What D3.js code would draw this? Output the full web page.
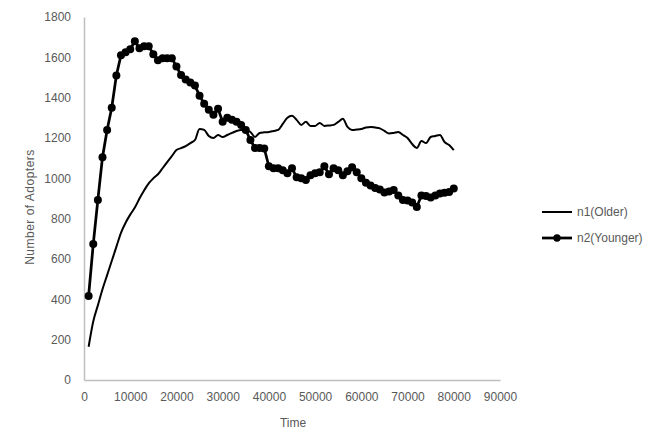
<!DOCTYPE html>
<html>
<head>
<meta charset="utf-8">
<script src="https://cdn.jsdelivr.net/npm/d3@7/dist/d3.min.js"></script>
<style>
  body { margin: 0; background: #fff; }
  text { font-family: "Liberation Sans", Arial, sans-serif; fill: #595959; }
</style>
</head>
<body>
<svg id="chart" width="655" height="438"></svg>
<script>
// time steps (x 1000)
const times = d3.range(1, 81).map(k => k * 1000);

// n1 (Older)
const n1 = [165, 290, 370, 450, 520, 590, 660, 730, 780, 820,
  855, 900, 940, 975, 1000, 1020, 1050, 1080, 1110, 1140,
  1150, 1160, 1175, 1190, 1245, 1240, 1210, 1200, 1215, 1205,
  1215, 1225, 1235, 1240, 1240, 1230, 1205, 1225, 1228, 1230,
  1235, 1240, 1270, 1300, 1310, 1290, 1265, 1280, 1260, 1260,
  1275, 1260, 1262, 1265, 1280, 1295, 1255, 1240, 1242, 1245,
  1252, 1255, 1252, 1248, 1235, 1222, 1225, 1230, 1215, 1200,
  1170, 1150, 1185, 1175, 1205, 1210, 1215, 1180, 1165, 1140];

// n2 (Younger)
const n2 = [417, 674, 893, 1105, 1240, 1350, 1510, 1610, 1625, 1640,
  1680, 1645, 1655, 1655, 1615, 1585, 1595, 1595, 1595, 1555,
  1512, 1490, 1475, 1460, 1410, 1370, 1340, 1315, 1345, 1280,
  1300, 1290, 1280, 1265, 1240, 1190, 1150, 1150, 1148, 1060,
  1050, 1050, 1040, 1025, 1050, 1005, 1000, 992, 1015, 1025,
  1030, 1060, 1020, 1050, 1040, 1015, 1035, 1055, 1030, 1000,
  978, 965, 952, 945, 930, 935, 942, 915, 893, 890,
  880, 858, 915, 912, 905, 915, 925, 928, 932, 950];

const xTicks = d3.range(0, 90001, 10000);
const yTicks = d3.range(0, 1801, 200);
const seriesNames = ["n1(Older)", "n2(Younger)"];

let svg = d3.select("#chart");

let x = d3.scaleLinear().domain([0, 90000]).range([84, 500]);
let y = d3.scaleLinear().domain([0, 1800]).range([380, 17]);

// ejes
let xAxis = svg.append("g")
    .attr("transform", "translate(0,380)")
    .call(d3.axisBottom(x).tickValues(xTicks).tickSize(0).tickPadding(12).tickFormat(d3.format("d")));
xAxis.select(".domain").attr("stroke", "#bfbfbf").attr("stroke-width", 1.5);
xAxis.selectAll("text").style("font-size", "12px").attr("fill", "#595959");

let yAxis = svg.append("g")
    .attr("transform", "translate(84,0)")
    .call(d3.axisLeft(y).tickValues(yTicks).tickSize(0).tickPadding(13).tickFormat(d3.format("d")));
yAxis.select(".domain").attr("stroke", "#bfbfbf").attr("stroke-width", 1.5);
yAxis.selectAll("text").style("font-size", "12px").attr("fill", "#595959");

// titulos
svg.append("text")
    .attr("x", 293).attr("y", 427)
    .attr("text-anchor", "middle")
    .style("font-size", "12px")
    .text("Time");

svg.append("text")
    .attr("transform", "translate(34,207) rotate(-90)")
    .attr("text-anchor", "middle")
    .style("font-size", "12px")
    .style("letter-spacing", "0.5px")
    .text("Number of Adopters");

// lineas
let line = d3.line()
    .x((d, i) => x(times[i]))
    .y(d => y(d));

svg.append("path")
    .datum(n1)
    .attr("fill", "none")
    .attr("stroke", "#000")
    .attr("stroke-width", 2)
    .attr("stroke-linejoin", "round")
    .attr("d", line.curve(d3.curveMonotoneX));

svg.append("path")
    .datum(n2)
    .attr("fill", "none")
    .attr("stroke", "#000")
    .attr("stroke-width", 2.75)
    .attr("d", line.curve(d3.curveLinear));

svg.selectAll("circle.n2")
    .data(n2)
    .enter()
    .append("circle")
    .attr("class", "n2")
    .attr("cx", (d, i) => x(times[i]))
    .attr("cy", d => y(d))
    .attr("r", 4)
    .attr("fill", "#000");

// leyenda
let legend = svg.selectAll("g.legend")
    .data(seriesNames)
    .enter()
    .append("g")
    .attr("class", "legend")
    .attr("transform", (d, i) => "translate(542," + (212 + i * 26) + ")");

legend.append("line")
    .attr("x1", 0).attr("x2", 30)
    .attr("stroke", "#000")
    .attr("stroke-width", (d, i) => i === 0 ? 2 : 2.75);

legend.filter((d, i) => i === 1)
    .append("circle")
    .attr("cx", 15).attr("r", 3.7)
    .attr("fill", "#000");

legend.append("text")
    .attr("x", 35).attr("y", 4)
    .style("font-size", "12px")
    .text(d => d);
</script>
</body>
</html>
